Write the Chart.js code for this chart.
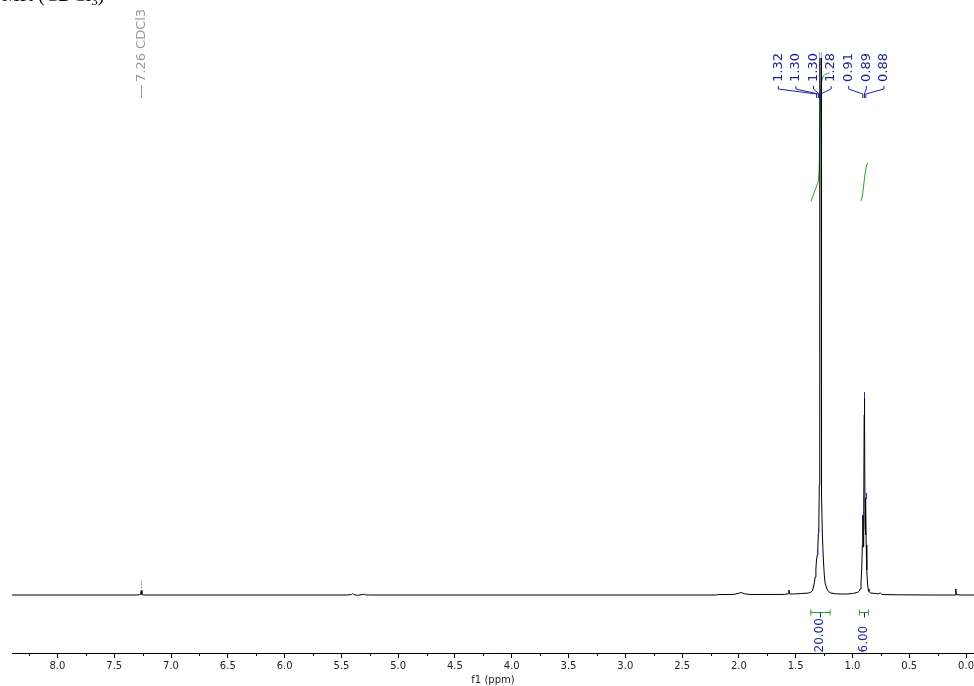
<!DOCTYPE html>
<html>
<head>
<meta charset="utf-8">
<script src="https://cdn.jsdelivr.net/npm/chart.js@4.4.1/dist/chart.umd.min.js"></script>
<style>
  body { margin: 0; background: #fff; }
  #spec { display: block; }
</style>
</head>
<body>
<canvas id="spec" width="974" height="686"></canvas>
<script>
// spectrum trace: chemical shift (ppm) and height above baseline
const shift = [
  8.40, 7.30, 7.268, 7.262, 7.256, 7.24,
  5.45, 5.41, 5.40, 5.39, 5.36, 5.31, 5.30, 5.29, 5.25,
  2.20, 2.18, 2.05, 2.00, 1.98, 1.95, 1.90,
  1.60, 1.565, 1.56, 1.555, 1.52, 1.45, 1.40, 1.37,
  1.355, 1.345, 1.335, 1.329, 1.322, 1.316, 1.310, 1.305, 1.300, 1.296,
  1.292, 1.289, 1.287, 1.277, 1.274, 1.271, 1.265, 1.256, 1.248, 1.241,
  1.225, 1.21, 1.197, 1.15, 1.10, 1.05, 1.00, 0.96, 0.95, 0.94,
  0.933, 0.925, 0.918, 0.913, 0.909, 0.905, 0.901, 0.897, 0.895, 0.893,
  0.889, 0.886, 0.883, 0.879, 0.874, 0.868, 0.862, 0.855, 0.84, 0.80,
  0.77, 0.755, 0.74, 0.60, 0.30, 0.095, 0.09, 0.085, 0.05, -0.07
];
const height = [
  0, 0, 0.5, 4.5, 0.5, 0,
  0, 0.5, 1.5, 0.3, -0.3, 0.5, 1, 0.2, 0,
  0, 0.5, 0.5, 1.8, 2.5, 1.2, 0.5,
  0.6, 1.2, 5, 1.2, 1, 1.5, 1.8, 2.5,
  4, 7, 13, 18, 26, 36, 40, 48, 62, 72,
  110, 200, 600, 600, 200, 100, 60, 35, 20, 12,
  6, 3.5, 2.2, 1.2, 1, 1, 1.5, 2.5, 3, 4,
  6, 12, 28, 50, 80, 48, 75, 180, 198, 180,
  70, 60, 97, 50, 25, 12, 6, 3.5, 2, 1.5,
  1.2, 2, 0.5, 0.2, 0, 0, 6, 0.3, 0, 0
];

// integral curves
const intAppm = [1.364, 1.329, 1.300, 1.290, 1.283, 1.276, 1.256, 1.232, 1.203];
const intAval = [394, 405, 415, 445, 485, 510, 519, 521, 522];
const intBppm = [0.927, 0.915, 0.905, 0.895, 0.885, 0.875, 0.865];
const intBval = [394, 398, 406, 416, 424, 430, 432];

// integral regions and values
const intFrom = [1.367, 0.939];
const intTo = [1.197, 0.860];
const intLabels = ['20.00', '6.00'];

// picked peaks
const peakPpm = [1.316, 1.300, 1.292, 1.281, 0.909, 0.895, 0.883];
const peakTop = [40, 62, 600, 600, 80, 198, 97];
const peakGroup = [0, 0, 0, 0, 1, 1, 1];
const peakLabels = ['1.32', '1.30', '1.30', '1.28', '0.91', '0.89', '0.88'];

const solventPpm = 7.26;
const solventTop = 4.5;
const solventLabel = '7.26 CDCl3';

const pts = (xs, ys) => xs.map((x, i) => ({ x: x, y: ys[i] }));

function vText(ctx, txt, x, y) {
  ctx.save();
  ctx.translate(x, y);
  ctx.rotate(-Math.PI / 2);
  ctx.textAlign = 'left';
  ctx.textBaseline = 'middle';
  ctx.fillText(txt, 0, 0);
  ctx.restore();
}

function line(ctx, coords) {
  ctx.beginPath();
  ctx.moveTo(coords[0][0], coords[0][1]);
  for (let i = 1; i < coords.length; i++) ctx.lineTo(coords[i][0], coords[i][1]);
  ctx.stroke();
}

const overlay = {
  id: 'overlay',
  afterDraw(chart) {
    const ctx = chart.ctx;
    const xs = chart.scales.x, ys = chart.scales.y;
    const area = chart.chartArea;
    ctx.save();
    ctx.lineWidth = 1;

    // minor ticks
    ctx.strokeStyle = '#000';
    for (let v = 0.25; v < 8.4; v += 0.5) {
      const px = Math.round(xs.getPixelForValue(v)) + 0.5;
      line(ctx, [[px, area.bottom], [px, area.bottom + 3]]);
    }

    // cut off title at the very top
    ctx.fillStyle = '#000';
    ctx.font = '20px "Liberation Serif"';
    ctx.textBaseline = 'alphabetic';
    ctx.textAlign = 'right';
    ctx.fillText('\u00B9H NMR ', 38, 1);
    ctx.textAlign = 'left';
    ctx.fillText('(CDCl', 38, 1);
    let w = ctx.measureText('(CDCl').width;
    ctx.font = '13px "Liberation Serif"';
    ctx.fillText('3', 38 + w, 5);
    w += ctx.measureText('3').width;
    ctx.font = '20px "Liberation Serif"';
    ctx.fillText(')', 38 + w, 1);

    // solvent label
    const sx = Math.round(xs.getPixelForValue(solventPpm)) + 0.5;
    ctx.strokeStyle = '#9a9a9a';
    ctx.fillStyle = '#9a9a9a';
    ctx.font = '13px "DejaVu Sans"';
    vText(ctx, solventLabel, sx, 82);
    line(ctx, [[sx, 85], [sx, 98]]);
    ctx.setLineDash([2, 1]);
    const sy = ys.getPixelForValue(solventTop);
    line(ctx, [[sx, sy - 10], [sx, sy - 2]]);
    ctx.setLineDash([]);

    // peak labels, laid out right to left without overlap
    const gap = 17.6;
    const px = peakPpm.map(p => xs.getPixelForValue(p));
    const pos = [];
    const groups = [...new Set(peakGroup)];
    groups.forEach(g => {
      const idx = peakGroup.map((v, i) => v === g ? i : -1).filter(i => i >= 0);
      const c = idx.reduce((s, i) => s + px[i], 0) / idx.length;
      idx.forEach((i, k) => { pos[i] = c + 2 + (k - (idx.length - 1) / 2) * gap; });
    });
    for (let i = pos.length - 2; i >= 0; i--) pos[i] = Math.min(pos[i], pos[i + 1] - gap);

    ctx.font = '13px "DejaVu Sans"';
    ctx.fillStyle = '#1f1f99';
    ctx.strokeStyle = '#1f1f99';
    peakLabels.forEach((t, i) => {
      vText(ctx, t, pos[i], 82);
      line(ctx, [[pos[i], 86], [pos[i], 89], [px[i], 94], [px[i], 98]]);
    });

    // peak top markers
    peakPpm.forEach((p, i) => {
      const x = Math.round(px[i]) + 0.5;
      const y = ys.getPixelForValue(peakTop[i]);
      if (y < area.top) {
        ctx.strokeStyle = '#9c9cd2';
        line(ctx, [[x, area.top - 6], [x, area.top]]);
      } else {
        ctx.strokeStyle = '#2b2bc0';
        line(ctx, [[x, y + 1], [x, y - 5]]);
      }
    });

    // integral bars below the baseline
    const by = Math.round(ys.getPixelForValue(-16.7)) + 0.5;
    intLabels.forEach((t, i) => {
      const x1 = xs.getPixelForValue(intFrom[i]);
      const x2 = xs.getPixelForValue(intTo[i]);
      const xm = Math.round((x1 + x2) / 2) + 0.5;
      ctx.strokeStyle = '#2e9b2e';
      line(ctx, [[x1, by], [x2, by]]);
      line(ctx, [[x1, by - 3], [x1, by + 3]]);
      line(ctx, [[x2, by - 3], [x2, by + 3]]);
      ctx.strokeStyle = '#1f1f99';
      line(ctx, [[xm, by], [xm, by + 5]]);
      ctx.fillStyle = '#1f1f99';
      ctx.font = '12px "DejaVu Sans"';
      vText(ctx, t, xm - 1, area.bottom - 0.5);
    });

    ctx.restore();
  }
};

new Chart(document.getElementById('spec'), {
  type: 'scatter',
  data: {
    datasets: [
      {
        label: 'spectrum',
        data: pts(shift, height),
        showLine: true,
        borderColor: '#000',
        borderWidth: 1,
        pointRadius: 0,
        tension: 0
      },
      {
        label: 'integral 1',
        data: pts(intAppm, intAval),
        showLine: true,
        borderColor: '#2e9b2e',
        borderWidth: 1,
        pointRadius: 0,
        tension: 0.3
      },
      {
        label: 'integral 2',
        data: pts(intBppm, intBval),
        showLine: true,
        borderColor: '#2e9b2e',
        borderWidth: 1,
        pointRadius: 0,
        tension: 0.3
      }
    ]
  },
  options: {
    responsive: false,
    animation: false,
    devicePixelRatio: 1,
    layout: { padding: { top: 58, left: 12, right: 0, bottom: 0 } },
    plugins: {
      legend: { display: false },
      tooltip: { enabled: false }
    },
    scales: {
      x: {
        type: 'linear',
        reverse: true,
        min: -0.07,
        max: 8.40,
        border: { display: true, color: '#000', width: 1 },
        grid: { drawOnChartArea: false, drawTicks: true, tickLength: 5, color: '#000' },
        ticks: {
          stepSize: 0.5,
          includeBounds: false,
          maxRotation: 0,
          autoSkip: false,
          padding: 2,
          color: '#222',
          font: { family: 'DejaVu Sans', size: 10 },
          callback: v => v.toFixed(1)
        },
        title: {
          display: true,
          text: 'f1 (ppm)',
          color: '#222',
          padding: 0,
          font: { family: 'DejaVu Sans', size: 10 }
        },
        afterFit(scale) {
          scale.height = 33;
          scale.paddingLeft = 0;
          scale.paddingRight = 0;
        }
      },
      y: {
        display: false,
        min: -58,
        max: 537
      }
    }
  },
  plugins: [overlay]
});
</script>
</body>
</html>
